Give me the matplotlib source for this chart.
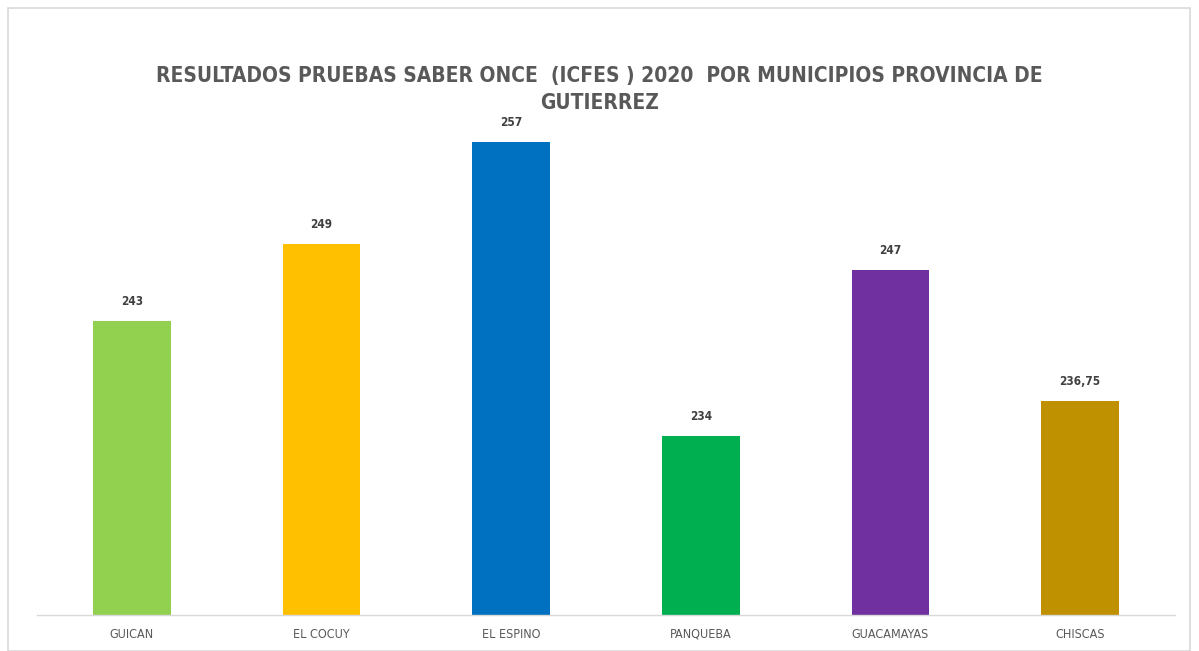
import matplotlib.pyplot as plt
from matplotlib.patches import Rectangle

# datos
municipios = ['GUICAN', 'EL COCUY', 'EL ESPINO', 'PANQUEBA', 'GUACAMAYAS', 'CHISCAS']
puntajes = [243, 249, 257, 234, 247, 236.75]
etiquetas = ['243', '249', '257', '234', '247', '236,75']
colores = ['#92D050', '#FFC000', '#0070C0', '#00B050', '#7030A0', '#BF9000']

plt.rcParams['font.family'] = ['DejaVu Sans']
plt.rcParams['font.stretch'] = 'condensed'

fig = plt.figure(figsize=(11.99, 6.51), dpi=100)
# borde gris del grafico
fig.patches.append(Rectangle((8 / 1199, 0), 1182 / 1199, 643 / 651, transform=fig.transFigure,
                             fill=False, edgecolor='#D9D9D9', linewidth=1.2))

ax = fig.add_axes([37 / 1199, 36 / 651, 1138 / 1199, 495 / 651])
x = range(len(municipios))
ax.bar(x, puntajes, width=0.41, color=colores, zorder=2)
for i, v in enumerate(puntajes):
    ax.text(i, v + 1.0, etiquetas[i], ha='center', va='bottom', fontsize=8.5,
            fontweight='bold', color='#404040')

ax.set_ylim(220, 258.7)
ax.set_xlim(-0.5, len(municipios) - 0.5)
ax.set_xticks(list(x))
ax.set_xticklabels(municipios, fontsize=9, color='#595959')
ax.tick_params(axis='x', length=0, pad=9)
ax.set_yticks([])
for s in ['top', 'right', 'left']:
    ax.spines[s].set_visible(False)
ax.spines['bottom'].set_color('#D9D9D9')
ax.spines['bottom'].set_linewidth(1)

fig.text(0.5, 1 - 76 / 651, 'RESULTADOS PRUEBAS SABER ONCE  (ICFES ) 2020  POR MUNICIPIOS PROVINCIA DE',
         ha='center', va='center', fontsize=15, fontweight='bold', color='#595959')
fig.text(0.5, 1 - 103 / 651, 'GUTIERREZ', ha='center', va='center', fontsize=15,
         fontweight='bold', color='#595959')

fig.savefig('out.png', dpi=100, facecolor='white')
